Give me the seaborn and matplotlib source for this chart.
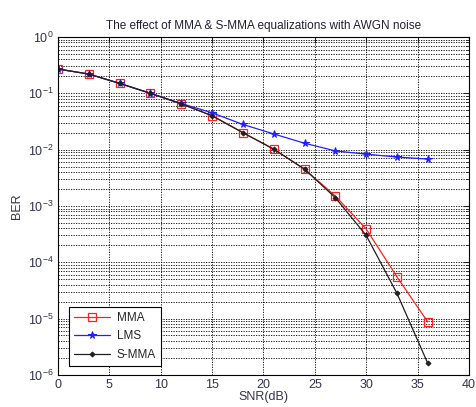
import numpy as np
import pandas as pd
import matplotlib
matplotlib.use("Agg")
import matplotlib.pyplot as plt
import seaborn as sns
from matplotlib.ticker import LogLocator, FixedLocator

# data
snr = [0, 3, 6, 9, 12, 15, 18, 21, 24, 27, 30, 33, 36]
ber_mma = [0.27, 0.22, 0.15, 0.10, 0.065, 0.040, 0.020, 0.0102, 0.0045, 0.0015, 3.9e-4, 5.5e-5, 8.7e-6]
ber_lms = [0.27, 0.22, 0.15, 0.10, 0.066, 0.045, 0.028, 0.019, 0.013, 0.0095, 0.0083, 0.0074, 0.0068]
ber_smma = [0.27, 0.22, 0.15, 0.10, 0.065, 0.040, 0.020, 0.0102, 0.0045, 0.0014, 3.0e-4, 2.8e-5, 1.6e-6]

series_names = ["MMA", "LMS", "S-MMA"]
colors = {"MMA": "#ff2020", "LMS": "#2020ff", "S-MMA": "#202020"}

df = pd.DataFrame({
    "SNR": snr * 3,
    "BER": ber_mma + ber_lms + ber_smma,
    "method": ["MMA"] * len(snr) + ["LMS"] * len(snr) + ["S-MMA"] * len(snr),
})

sns.set_style("white")
plt.rcParams['font.family'] = ['Liberation Sans', 'DejaVu Sans']

fig = plt.figure(figsize=(4.76, 4.07), dpi=100)
ax = fig.add_axes([0.122, 0.079, 0.863, 0.830])

marker_opts = {
    "MMA": dict(marker="s", markersize=5.5, markerfacecolor="none", markeredgecolor=colors["MMA"], markeredgewidth=0.9),
    "LMS": dict(marker="*", markersize=5.5, markerfacecolor=colors["LMS"], markeredgecolor=colors["LMS"]),
    "S-MMA": dict(marker="D", markersize=2.5, markerfacecolor=colors["S-MMA"], markeredgecolor=colors["S-MMA"]),
}

for name in series_names:
    sub = df[df["method"] == name]
    sns.lineplot(data=sub, x="SNR", y="BER", ax=ax, color=colors[name], linewidth=0.9,
                 label=name, **marker_opts[name])

ax.set_yscale("log")
ax.set_xlim(0, 40)
ax.set_ylim(1e-6, 1)
ax.xaxis.set_major_locator(FixedLocator(np.arange(0, 41, 5)))
ax.yaxis.set_major_locator(LogLocator(base=10, numticks=10))
ax.yaxis.set_minor_locator(LogLocator(base=10, subs=np.arange(2, 10), numticks=10))

ax.grid(True, which="major", axis="both", color="black", linestyle=(0, (1.5, 1.5)), linewidth=0.6)
ax.grid(True, which="minor", axis="y", color="black", linestyle=(0, (1.5, 1.5)), linewidth=0.6)

ax.tick_params(which="both", direction="in", top=True, right=True, labelsize=9, labelcolor="#33334d")
ax.tick_params(which="major", length=4, pad=3)
ax.tick_params(which="minor", length=2)
for s in ax.spines.values():
    s.set_color("black")
    s.set_linewidth(0.8)

ax.set_xlabel("SNR(dB)", fontsize=9, labelpad=0, color="#33334d")
ax.set_ylabel("BER", fontsize=9, labelpad=4, color="#33334d")
ax.set_title("The effect of MMA & S-MMA equalizations with AWGN noise", fontsize=8.5, pad=6, color="#222233")

leg = ax.legend(loc="lower left", bbox_to_anchor=(0.012, 0.008), fontsize=8.5, frameon=True,
                fancybox=False, edgecolor="black", handlelength=3.0, handletextpad=0.6,
                borderpad=0.45, labelspacing=0.55)
leg.get_frame().set_linewidth(0.8)
leg.get_frame().set_facecolor("white")
leg.get_frame().set_alpha(1)

fig.savefig("out.png", dpi=100)
